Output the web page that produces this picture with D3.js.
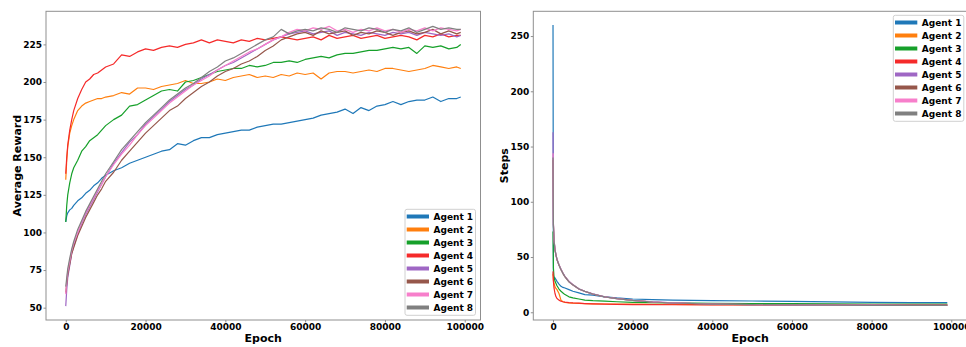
<!DOCTYPE html>
<html><head><meta charset="utf-8">
<script src="https://cdn.jsdelivr.net/npm/d3@7"></script>
<style>
body{margin:0;background:#fff;}
text{font-family:"DejaVu Sans",sans-serif;font-weight:bold;}
</style></head><body>
<svg id="c" width="966" height="347"></svg>
<script>
// ---------- DATA ----------
const agentNames = ["Agent 1","Agent 2","Agent 3","Agent 4","Agent 5","Agent 6","Agent 7","Agent 8"];
const agentColors = ["#1f78b8","#ff7f0e","#16a02a","#f52a2a","#9f67c4","#96574b","#f77fcb","#808080"];

const epochsL = [0,250,500,1000,1500,2000,3000,4000,5000,6000,7000,8000,9000,
  10000,12000,14000,16000,18000,20000,22000,24000,26000,28000,
  30000,32000,34000,36000,38000,40000,42000,44000,46000,48000,
  50000,52000,54000,56000,58000,60000,62000,64000,66000,68000,
  70000,72000,74000,76000,78000,80000,82000,84000,86000,88000,
  90000,92000,94000,96000,98000,99000];

const reward1 = [107,111,113,115,116,118,121,123,126,128,131,133,136,
  138,141,143,146,148,150,152,154,155,159,
  158,161,163,163,165,166,167,168,168,170,
  171,172,172,173,174,175,176,178,179,180,
  182,179,183,181,184,185,187,185,187,188,
  188,190,187,189,189,190];
const reward2 = [135,148,157,166,171,175,181,184,186,187,188,189,189,
  190,191,193,192,196,196,195,197,198,199,
  201,199,199,200,202,201,203,204,205,203,
  204,203,205,204,206,205,206,202,206,207,
  207,206,207,208,207,209,209,208,207,208,
  209,211,210,209,210,209];
const reward3 = [107,118,125,133,139,143,148,154,157,161,163,165,168,
  171,175,178,184,185,188,191,194,195,194,
  200,201,203,205,207,208,209,209,211,210,
  211,213,213,214,213,215,216,217,216,218,
  219,219,220,221,221,222,223,222,223,219,
  224,223,224,222,223,225];
const reward4 = [139,150,158,168,175,181,189,195,200,202,205,206,208,
  210,212,218,217,220,222,221,223,224,223,
  225,226,228,226,228,227,226,228,227,229,
  228,229,230,229,228,229,230,228,231,229,
  230,231,229,230,231,229,230,231,230,228,
  231,230,232,230,231,231];
const reward5 = [51,62,70,78,86,91,99,106,112,117,122,127,132,
  137,146,153,160,165,172,177,182,187,191,
  195,198,202,205,208,211,213,216,219,222,
  225,228,230,232,233,234,232,233,234,231,
  233,232,231,233,232,231,233,232,233,231,
  233,232,231,232,230,231];
const reward6 = [60,66,72,79,86,90,98,104,110,115,120,125,129,
  134,140,148,154,160,166,171,176,181,184,
  189,193,197,200,204,207,209,212,214,217,
  221,224,228,230,232,233,231,234,232,233,
  234,231,233,232,234,233,231,233,234,232,
  233,235,232,234,232,233];
const reward7 = [59,68,74,81,88,93,100,107,113,118,123,128,132,
  137,145,152,158,165,171,176,181,186,190,
  194,198,201,204,208,211,214,217,220,222,
  225,228,230,233,235,234,236,235,237,234,
  235,233,235,234,236,234,235,233,235,234,
  236,234,236,235,234,235];
const reward8 = [64,70,76,83,89,94,102,108,114,119,124,129,134,
  139,147,155,161,167,173,178,183,188,192,
  196,199,203,207,210,214,216,219,222,225,
  228,230,235,232,234,235,234,236,235,233,
  236,235,234,236,235,233,235,234,236,233,
  235,237,235,236,235,235];

const epochsR = [0,100,250,500,750,1000,1500,2000,2500,3000,4000,5000,6500,8000,10000,
  13000,16000,20000,25000,30000,40000,50000,60000,70000,80000,90000,99000];
const steps1 = [260,33,32,31,29.5,28,25.5,23.5,22.5,22,20.5,19,17.5,16,15.5,14,13,12,11.5,11,10.5,10.2,9.8,9.4,9,8.8,8.7];
const steps2 = [35,29,26,23,21.5,20.5,17,11,9.5,9,8.5,8.2,8,7.8,7.6,7.5,7.4,7.3,7.2,7.1,7,7,6.9,6.9,6.8,6.8,6.8];
const steps3 = [73,40,32,28,26,24,21,19,17.5,16,14,13,12,11,10.5,10,9.5,9,8.7,8.5,8.1,7.9,7.8,7.6,7.5,7.5,7.4];
const steps4 = [37,28,22,17,14,12.5,11,10,9.5,9.2,8.8,8.5,8.2,7.9,7.6,7.3,7.1,7,6.9,6.8,6.7,6.7,6.6,6.6,6.5,6.5,6.5];
const steps5 = [163,80,66,57,52,48,43,39,35.5,32.5,28,25,21.2,19,16.6,14,12.5,10.8,9.4,8.5,7.5,7,6.7,6.5,6.4,6.3,6.3];
const steps6 = [138,79,65,56,51.5,47.5,42.5,38.5,35,32,27.5,24.6,21,18.8,16.4,13.8,12.3,10.7,9.3,8.4,7.4,6.9,6.6,6.4,6.3,6.2,6.2];
const steps7 = [144,80.5,66.5,57,52,48,43,39,35.3,32.4,27.9,24.9,21.1,18.9,16.5,14,12.4,10.8,9.4,8.5,7.5,7,6.7,6.5,6.4,6.3,6.3];
const steps8 = [140,79.5,65.5,56.5,51.8,47.8,42.8,38.8,35.2,32.2,27.7,24.8,21.1,18.9,16.5,13.9,12.3,10.7,9.3,8.4,7.4,6.9,6.6,6.4,6.3,6.2,6.2];

const xTickValues = [0,20000,40000,60000,80000,100000];
const rewardTicks = [50,75,100,125,150,175,200,225];
const stepTicks = [0,50,100,150,200,250];

// ---------- DRAW ----------
const svg = d3.select("#c");
svg.append("rect").attr("width",966).attr("height",347).attr("fill","#fff");

function panel(o){
  const x = d3.scaleLinear().domain(o.xDomain).range([o.x0,o.x1]);
  const y = d3.scaleLinear().domain(o.yDomain).range([o.y1,o.y0]);
  const g = svg.append("g");
  const clipId = "clip"+o.id;
  g.append("clipPath").attr("id",clipId).append("rect")
    .attr("x",o.x0).attr("y",o.y0).attr("width",o.x1-o.x0).attr("height",o.y1-o.y0);
  const line = d3.line().x((d,i)=>x(o.xs[i])).y(d=>y(d));
  const lg = g.append("g").attr("clip-path",`url(#${clipId})`);
  o.series.forEach((s,i)=>{
    lg.append("path").attr("d",line(s)).attr("fill","none")
      .attr("stroke",agentColors[i]).attr("stroke-width",1.2).attr("stroke-linejoin","round");
  });
  // axes
  const xa = g.append("g").attr("transform",`translate(0,${o.y1})`)
    .call(d3.axisBottom(x).tickValues(xTickValues).tickFormat(d3.format("d")).tickSize(2.5).tickPadding(1.5));
  const ya = g.append("g").attr("transform",`translate(${o.x0},0)`)
    .call(d3.axisLeft(y).tickValues(o.yTicks).tickFormat(d3.format("d")).tickSize(2.5).tickPadding(1.5));
  [xa,ya].forEach(a=>{
    a.select(".domain").remove();
    a.selectAll(".tick line").attr("stroke","#8f8f8f");
    a.selectAll(".tick text").attr("fill","#000").style("font-size","9px")
      .style("font-family","'DejaVu Sans',sans-serif").style("font-weight","bold");
  });
  // frame
  g.append("rect").attr("x",o.x0).attr("y",o.y0).attr("width",o.x1-o.x0).attr("height",o.y1-o.y0)
    .attr("fill","none").attr("stroke","#8f8f8f").attr("stroke-width",1);
  // labels
  g.append("text").attr("x",(o.x0+o.x1)/2).attr("y",342).attr("text-anchor","middle")
    .style("font-size","11px").attr("fill","#000").text("Epoch");
  g.append("text").attr("transform",`translate(${o.ylx},${(o.y0+o.y1)/2}) rotate(-90)`)
    .attr("text-anchor","middle").attr("dy","0.36em").style("font-size","11px").attr("fill","#000").text(o.ylabel);
  // legend
  const L = g.append("g").attr("transform",`translate(${o.lx},${o.ly})`);
  L.append("rect").attr("x",0).attr("y",0).attr("width",70.5).attr("height",106).attr("rx",2)
    .attr("fill","#fff").attr("fill-opacity",0.85).attr("stroke","#d0d0d0").attr("stroke-width",1);
  agentNames.forEach((n,i)=>{
    const yy = 7.2 + i*13;
    L.append("line").attr("x1",1.7).attr("x2",24).attr("y1",yy).attr("y2",yy)
      .attr("stroke",agentColors[i]).attr("stroke-width",4);
    L.append("text").attr("x",28.5).attr("y",yy+3.3).style("font-size","9px").attr("fill","#000").text(n);
  });
}

panel({id:"L", x0:46, x1:480.5, y0:11.3, y1:320, xDomain:[-4950,103950], yDomain:[41.8,247],
  yTicks:rewardTicks, xs:epochsL,
  series:[reward1,reward2,reward3,reward4,reward5,reward6,reward7,reward8],
  ylabel:"Average Reward", ylx:16.7, lx:405, ly:209.3});

panel({id:"R", x0:533.3, x1:967, y0:11.3, y1:320, xDomain:[-4950,103950], yDomain:[-7,272.4],
  yTicks:stepTicks, xs:epochsR,
  series:[steps1,steps2,steps3,steps4,steps5,steps6,steps7,steps8],
  ylabel:"Steps", ylx:504, lx:893.3, ly:15.3});
</script>
</body></html>
